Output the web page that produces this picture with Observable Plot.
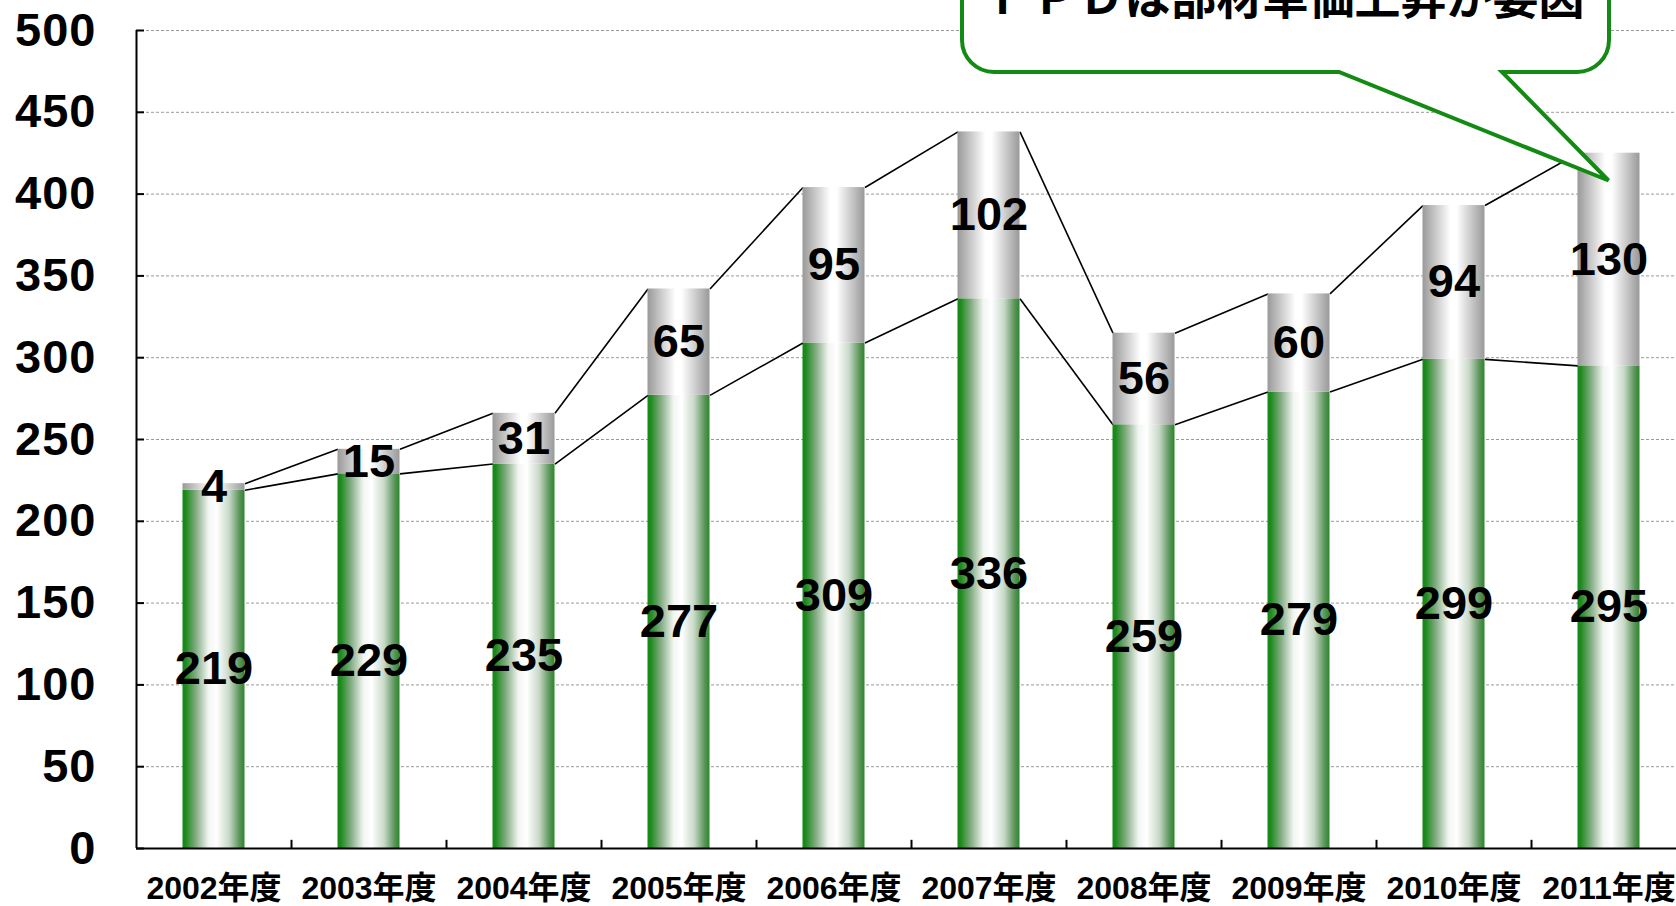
<!DOCTYPE html>
<html>
<head>
<meta charset="utf-8">
<script src="https://cdn.jsdelivr.net/npm/d3@7"></script>
<script src="https://cdn.jsdelivr.net/npm/@observablehq/plot@0.6"></script>
<style>
  html, body { margin: 0; padding: 0; background: #fff; overflow: hidden; }
  #chart svg { display: block; font-family: "Liberation Sans", Arial, sans-serif; }
  #chart g[aria-label="y-axis tick label"] text { font-size: 47px; font-weight: bold; fill: #000; letter-spacing: 1px; }
</style>
</head>
<body>
<div id="chart"></div>
<script>
// ---- data ----
const years = ["2002年度","2003年度","2004年度","2005年度","2006年度","2007年度","2008年度","2009年度","2010年度","2011年度"];
const baseValues = [219, 229, 235, 277, 309, 336, 259, 279, 299, 295];   // green segment
const addValues  = [4, 15, 31, 65, 95, 102, 56, 60, 94, 130];             // gray segment
const yTicks = [0, 50, 100, 150, 200, 250, 300, 350, 400, 450, 500];
const calloutText = "ＦＰＤは部材単価上昇が要因";

const rows = years.map((year, i) => ({
  i, year, base: baseValues[i], add: addValues[i], total: baseValues[i] + addValues[i]
}));
const pairs = rows.slice(0, -1).map((d, k) => ({ i: d.i, b1: d.base, b2: rows[k + 1].base, t1: d.total, t2: rows[k + 1].total }));
const half = 0.2; // bar half-width in category units

const chart = Plot.plot({
  width: 1676,
  height: 906,
  marginLeft: 136,
  marginRight: -10,
  marginTop: 30,
  marginBottom: 58,
  x: { domain: [-0.5, 9.5], axis: null },
  y: { domain: [0, 500], axis: null },
  marks: [
    Plot.ruleY(yTicks.filter(t => t > 0), { stroke: "#9a9a9a", strokeWidth: 1, strokeDasharray: "3,2" }),
    Plot.link(pairs, { x1: d => d.i + half, x2: d => d.i + 1 - half, y1: "b1", y2: "b2", stroke: "#000", strokeWidth: 1.6 }),
    Plot.link(pairs, { x1: d => d.i + half, x2: d => d.i + 1 - half, y1: "t1", y2: "t2", stroke: "#000", strokeWidth: 1.6 }),
    Plot.rect(rows, { x1: d => d.i - half, x2: d => d.i + half, y1: 0, y2: "base", fill: "url(#gGreen)" }),
    Plot.rect(rows, { x1: d => d.i - half, x2: d => d.i + half, y1: "base", y2: "total", fill: "url(#gGray)" }),
    Plot.text(rows, { x: "i", y: d => d.base / 2, text: d => String(d.base), fontSize: 47, fontWeight: "bold", fill: "#000", style: "letter-spacing:1px" }),
    Plot.text(rows, { x: "i", y: d => d.base + d.add / 2, text: d => String(d.add), fontSize: 47, fontWeight: "bold", fill: "#000", style: "letter-spacing:1px" }),
    Plot.ruleX([-0.5], { stroke: "#000", strokeWidth: 2 }),
    Plot.ruleY([0], { stroke: "#000", strokeWidth: 2 }),
    Plot.ruleY(yTicks, { x1: -0.5, x2: -0.5 + 8 / 155, stroke: "#000", strokeWidth: 2 }),
    Plot.ruleX(rows.slice(0, -1).map(d => d.i + 0.5), { y1: 0, y2: 5, stroke: "#000", strokeWidth: 2 }),
    Plot.axisY({ ticks: yTicks, tickSize: 0, tickPadding: 40, tickFormat: d => String(d) }),
    Plot.text(rows, { x: "i", y: 0, text: "year", dy: 40, fontSize: 32, fontWeight: "bold", fill: "#000",
      fontFamily: "'Liberation Sans', 'Noto Sans CJK JP', sans-serif" })
  ]
});

document.getElementById("chart").appendChild(chart);

// gradients
const svg = d3.select(chart);
const defs = svg.insert("defs", ":first-child");
function gradient(id, stops) {
  const g = defs.append("linearGradient").attr("id", id).attr("x1", 0).attr("x2", 1).attr("y1", 0).attr("y2", 0);
  stops.forEach(([o, c]) => g.append("stop").attr("offset", o).attr("stop-color", c));
}
gradient("gGreen", [["0%", "#128812"], ["5%", "#1d8a1d"], ["22%", "#86ad86"], ["42%", "#f2f6f2"], ["55%", "#ffffff"],
  ["75%", "#c9d9c9"], ["92%", "#5b955b"], ["100%", "#2a862a"]]);
gradient("gGray", [["0%", "#999999"], ["45%", "#ffffff"], ["55%", "#ffffff"], ["100%", "#999999"]]);

// callout annotation
const sx = chart.scale("x"), sy = chart.scale("y");
const tipX = sx.apply(9), tipY = sy.apply(408);
const L = 962, R = 1609, T = -80, B = 72, r = 32, tailL = 1339, tailR = 1502;
const path = `M${L + r},${T} H${R - r} A${r},${r} 0 0 1 ${R},${T + r} V${B - r} A${r},${r} 0 0 1 ${R - r},${B}` +
  ` H${tailR} L${tipX},${tipY} L${tailL},${B} H${L + r} A${r},${r} 0 0 1 ${L},${B - r} V${T + r} A${r},${r} 0 0 1 ${L + r},${T} Z`;
const callout = svg.append("g");
callout.append("path").attr("d", path).attr("fill", "#fff").attr("stroke", "#138a13").attr("stroke-width", 4).attr("stroke-linejoin", "miter");
callout.append("text").attr("x", (L + R) / 2).attr("y", 14).attr("text-anchor", "middle")
  .attr("font-family", "'Noto Sans CJK JP', sans-serif").attr("font-weight", "bold").attr("font-size", 46).attr("fill", "#000")
  .text(calloutText);
</script>
</body>
</html>
